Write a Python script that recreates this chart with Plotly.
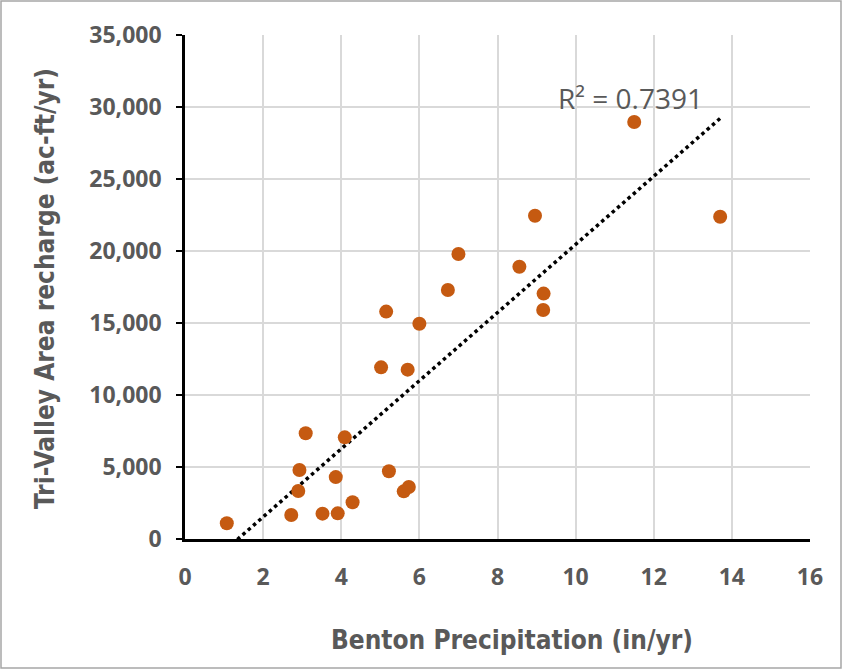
import numpy as np
import plotly.graph_objects as go

precip = [1.07, 2.72, 2.90, 2.93, 3.09, 3.52, 3.91, 3.86, 4.09, 4.29,
          5.02, 5.15, 5.22, 5.60, 5.73, 5.70, 6.00, 6.73, 7.00, 8.56,
          8.96, 9.18, 9.17, 11.50, 13.70]
recharge = [1090, 1670, 3330, 4790, 7340, 1760, 1780, 4300, 7060, 2550,
            11920, 15790, 4700, 3310, 3610, 11760, 14950, 17290, 19790, 18910,
            22450, 17040, 15900, 28960, 22380]

x_ticks = [0, 2, 4, 6, 8, 10, 12, 14, 16]
y_ticks = [0, 5000, 10000, 15000, 20000, 25000, 30000, 35000]
y_tick_labels = ["0", "5,000", "10,000", "15,000", "20,000", "25,000", "30,000", "35,000"]

x_title = "Benton Precipitation (in/yr)"
y_title = "Tri-Valley Area recharge (ac-ft/yr)"

# linear trendline (Excel-style) computed from the data
xa = np.array(precip)
ya = np.array(recharge)
slope, intercept = np.polyfit(xa, ya, 1)
pred = slope * xa + intercept
r2 = 1 - np.sum((ya - pred) ** 2) / np.sum((ya - ya.mean()) ** 2)
tx = np.array([xa.min(), xa.max()])
ty = slope * tx + intercept

gray = "#595959"
tick_fam = "'Open Sans', Lato, sans-serif"
title_fam = "'Liberation Sans Narrow', 'DejaVu Sans Condensed', sans-serif"

fig = go.Figure()
fig.add_trace(go.Scatter(
    x=tx, y=ty, mode="lines",
    line=dict(color="black", width=3.5, dash="dot"),
    hoverinfo="skip", showlegend=False, cliponaxis=True,
))
fig.add_trace(go.Scatter(
    x=precip, y=recharge, mode="markers",
    marker=dict(color="#C55A11", size=14, line=dict(width=0)),
    showlegend=False, cliponaxis=False,
))

L, R, T, B = 185, 32, 35, 131
W, H = 842, 670
pw, ph = W - L - R, H - T - B

fig.update_layout(
    width=W, height=H,
    margin=dict(l=L, r=R, t=T, b=B, pad=0),
    paper_bgcolor="white", plot_bgcolor="white",
    font=dict(family=tick_fam, color=gray),
    xaxis=dict(
        range=[0, 16], tickvals=x_ticks, ticktext=[str(v) for v in x_ticks],
        showgrid=True, gridcolor="#D9D9D9", gridwidth=1.5,
        showline=True, linecolor="black", linewidth=2.5,
        zeroline=False, ticks="", ticklabelstandoff=16,
        tickfont=dict(size=23, family=tick_fam, color=gray, weight="bold"),
        fixedrange=True,
    ),
    yaxis=dict(
        range=[0, 35000], tickvals=y_ticks, ticktext=y_tick_labels,
        showgrid=True, gridcolor="#D9D9D9", gridwidth=1.5,
        showline=True, linecolor="black", linewidth=2.5,
        zeroline=False, ticks="outside", ticklen=6, tickwidth=2, tickcolor="black",
        ticklabelstandoff=10,
        tickfont=dict(size=23, family=tick_fam, color=gray, weight="bold"),
        fixedrange=True,
    ),
    annotations=[
        dict(x=11.4, y=30600, xref="x", yref="y",
             text="R² = %.4f" % r2, showarrow=False,
             font=dict(size=28, family=tick_fam, color=gray),
             xanchor="center", yanchor="middle"),
        dict(x=(512 - L) / pw, y=(ph + T - 640) / ph, xref="paper", yref="paper",
             text=x_title, showarrow=False,
             font=dict(size=26, family=title_fam, color=gray, weight="bold"),
             xanchor="center", yanchor="middle"),
        dict(x=(45 - L) / pw, y=(ph + T - 289) / ph, xref="paper", yref="paper",
             text=y_title, showarrow=False, textangle=-90,
             font=dict(size=26, family=title_fam, color=gray, weight="bold"),
             xanchor="center", yanchor="middle"),
    ],
    shapes=[dict(
        type="rect", xref="paper", yref="paper",
        x0=(1 - L) / pw, x1=(W - 1 - L) / pw,
        y0=-(H - 2 - T - ph) / ph, y1=(T - 1) / ph + 1,
        line=dict(color="#A6A6A6", width=1.5), fillcolor="rgba(0,0,0,0)",
        layer="below",
    )],
)

fig.write_html("out.html")
